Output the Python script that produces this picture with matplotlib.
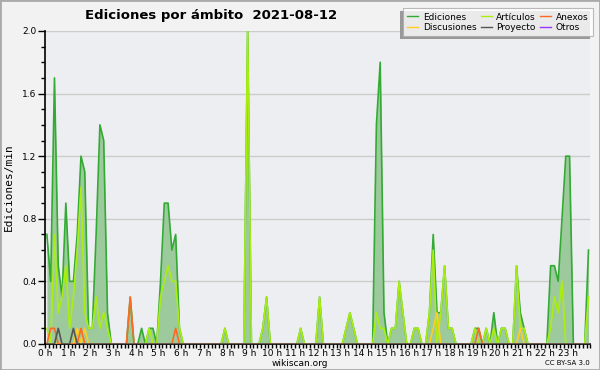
import numpy as np
import matplotlib.pyplot as plt

# 10-minute bins, edits per minute
edits = [0.7, 0.4, 1.7, 0.5, 0.3, 0.9, 0.4, 0.4, 0.7, 1.2, 1.1, 0.1,
         0.1, 0.7, 1.4, 1.3, 0.2, 0, 0, 0, 0, 0, 0.3, 0,
         0, 0.1, 0, 0.1, 0.1, 0, 0.4, 0.9, 0.9, 0.6, 0.7, 0.1,
         0, 0, 0, 0, 0, 0, 0, 0, 0, 0, 0, 0.1,
         0, 0, 0, 0, 0, 2.0, 0, 0, 0, 0.1, 0.3, 0,
         0, 0, 0, 0, 0, 0, 0, 0.1, 0, 0, 0, 0,
         0.3, 0, 0, 0, 0, 0, 0, 0.1, 0.2, 0.1, 0, 0,
         0, 0, 0, 1.4, 1.8, 0.2, 0, 0.1, 0.1, 0.4, 0.2, 0,
         0, 0.1, 0.1, 0, 0, 0.2, 0.7, 0.2, 0.2, 0.5, 0.1, 0.1,
         0, 0, 0, 0, 0, 0.1, 0.1, 0, 0.1, 0, 0.2, 0,
         0.1, 0.1, 0, 0, 0.5, 0.2, 0.1, 0, 0, 0, 0, 0,
         0, 0.5, 0.5, 0.4, 0.8, 1.2, 1.2, 0, 0, 0, 0, 0.6]

articulos = [0.1, 0, 0.7, 0.2, 0.3, 0.5, 0.1, 0.3, 0.6, 1.0, 0.2, 0.1,
             0.1, 0.3, 0.1, 0.2, 0.1, 0, 0, 0, 0, 0, 0, 0,
             0, 0, 0, 0.1, 0, 0, 0.3, 0.4, 0.5, 0.4, 0.4, 0.1,
             0, 0, 0, 0, 0, 0, 0, 0, 0, 0, 0, 0.1,
             0, 0, 0, 0, 0, 2.0, 0, 0, 0, 0.1, 0.3, 0,
             0, 0, 0, 0, 0, 0, 0, 0.1, 0, 0, 0, 0,
             0.3, 0, 0, 0, 0, 0, 0, 0.1, 0.2, 0.1, 0, 0,
             0, 0, 0, 0.2, 0.1, 0.1, 0, 0.1, 0.1, 0.4, 0.2, 0,
             0, 0.1, 0.1, 0, 0, 0.2, 0.6, 0, 0.2, 0.5, 0.1, 0.1,
             0, 0, 0, 0, 0, 0.1, 0, 0, 0.1, 0, 0.1, 0,
             0.1, 0.1, 0, 0, 0.5, 0.1, 0.1, 0, 0, 0, 0, 0,
             0, 0.1, 0.3, 0.2, 0.4, 0, 0, 0, 0, 0, 0, 0.3]

# sparse series: bin index -> value
anexos_idx = [1, 2, 9, 22, 34, 114]
anexos_val = [0.1, 0.1, 0.1, 0.3, 0.1, 0.1]
discusiones_idx = [8, 10, 102, 103, 125]
discusiones_val = [0.1, 0.1, 0.1, 0.2, 0.1]
proyecto_idx = [3, 7]
proyecto_val = [0.1, 0.1]

hour_labels = ['%d h' % h for h in range(24)]


def dense(idx, val, n=144):
    arr = np.zeros(n)
    arr[idx] = val
    return arr


x = (np.arange(144) + 0.5) / 6.0
edits = np.array(edits)
articulos = np.array(articulos)
anexos = dense(anexos_idx, anexos_val)
discusiones = dense(discusiones_idx, discusiones_val)
proyecto = dense(proyecto_idx, proyecto_val)
otros = np.zeros(144)

fig = plt.figure(figsize=(6, 3.7), dpi=100, facecolor='#f2f2f2')
ax = fig.add_axes([0.075, 0.0703, 0.909, 0.846])
ax.set_facecolor('#eceef1')

ax.fill_between(x, edits, color='#9dca9d', lw=0, zorder=1)
l_ed, = ax.plot(x, edits, color='#33aa33', lw=1.2, zorder=3)
l_art, = ax.plot(x, articulos, color='#aaee11', lw=1.2, zorder=4)
l_dis, = ax.plot(x, discusiones, color='#ffcc22', lw=1.2, zorder=5)
l_anx, = ax.plot(x, anexos, color='#ff6a22', lw=1.2, zorder=6)
l_pro, = ax.plot(x, proyecto, color='#555555', lw=1.2, zorder=7)
l_otr, = ax.plot(x, otros, color='#9933ff', lw=1.2, zorder=2)

ax.set_xlim(0, 24)
ax.set_ylim(0, 2.0)
ax.set_xticks(range(24))
ax.set_xticklabels(hour_labels)
ax.set_xticks(np.arange(0, 24.01, 1 / 6.0), minor=True)
ax.set_yticks(np.arange(0, 2.01, 0.4))
ax.set_yticklabels(['%.1f' % v for v in np.arange(0, 2.01, 0.4)])
ax.set_yticks(np.arange(0, 2.01, 0.1), minor=True)
ax.tick_params(axis='x', which='both', length=3, width=1, labelsize=6.5, pad=0.5)
ax.tick_params(axis='y', which='major', length=5, width=1, labelsize=6.5, pad=1)
ax.tick_params(axis='y', which='minor', length=3, width=1)
ax.grid(axis='y', which='major', color='#cccccc', lw=1)
ax.set_axisbelow(True)
for s in ['top', 'right']:
    ax.spines[s].set_visible(False)
ax.spines['left'].set_linewidth(1.2)
ax.spines['bottom'].set_linewidth(1.2)

ax.set_ylabel('Ediciones/min', fontsize=8, family='DejaVu Sans Mono', labelpad=6)

fig.text(85 / 600, 1 - 15 / 370, 'Ediciones por ámbito  2021-08-12',
         fontsize=9.5, fontweight='bold', va='center', ha='left')

handles = [l_ed, l_dis, l_art, l_pro, l_anx, l_otr]
labels = ['Ediciones', 'Discusiones', 'Artículos', 'Proyecto', 'Anexos', 'Otros']
leg = fig.legend(handles, labels, ncol=3, loc='upper right',
                 bbox_to_anchor=(0.988, 0.978), fontsize=6.5, frameon=True,
                 fancybox=False, shadow=False, handlelength=1.2, handletextpad=0.5,
                 columnspacing=0.5, labelspacing=0.12, borderpad=0.5,
                 borderaxespad=0)
leg.get_frame().set_edgecolor('#aaaaaa')
leg.get_frame().set_linewidth(0.8)
leg.set_zorder(10)
for ln in leg.get_lines():
    ln.set_linewidth(1.0)

# gray shadow to the lower left of the legend box
fig.canvas.draw()
bb = leg.get_window_extent().transformed(fig.transFigure.inverted())
fig.patches.append(plt.Rectangle((bb.x0 - 3 / 600, bb.y0 - 3 / 370), bb.width, bb.height,
                                 transform=fig.transFigure, facecolor='#999999',
                                 edgecolor='none', zorder=9))

fig.text(0.5, 0.018, 'wikiscan.org', ha='center', va='center', fontsize=6.5)
fig.text(0.983, 0.02, 'CC BY-SA 3.0', ha='right', va='center', fontsize=5)

fig.patches.append(plt.Rectangle((0, 0), 1, 1, transform=fig.transFigure,
                                 fill=False, edgecolor='#aaaaaa', lw=2))

fig.savefig('out.png', dpi=100, facecolor=fig.get_facecolor())
